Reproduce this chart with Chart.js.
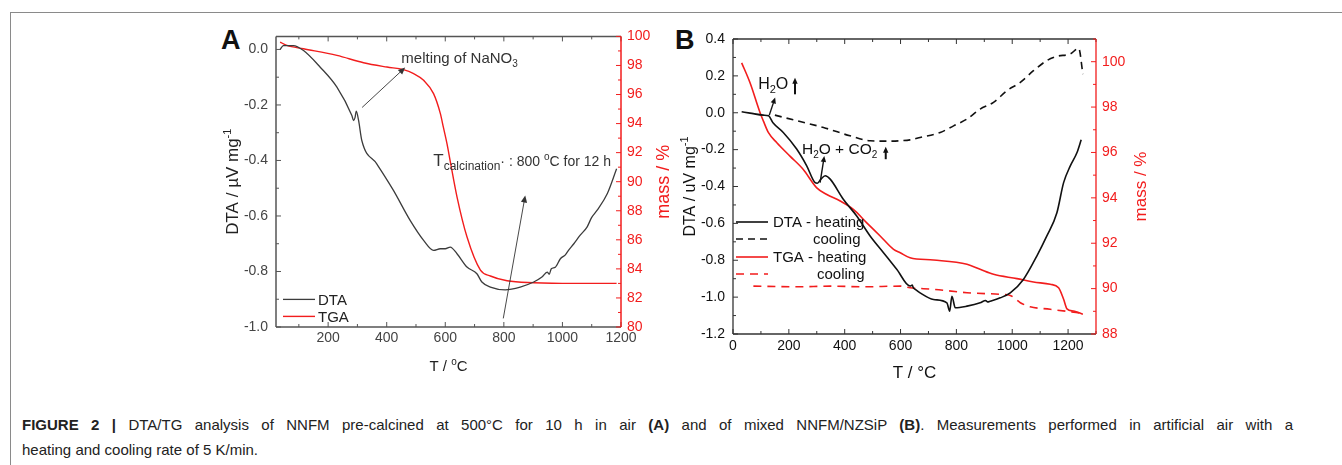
<!DOCTYPE html>
<html>
<head>
<meta charset="utf-8">
<script src="https://cdn.jsdelivr.net/npm/chart.js@4.4.1/dist/chart.umd.min.js"></script>
<style>
  html, body { margin: 0; padding: 0; background: #fff; }
  body { width: 1342px; height: 465px; position: relative; overflow: hidden; font-family: "Liberation Sans", Arial, sans-serif; }
  #frame { position: absolute; left: 10px; top: 12px; width: 1340px; height: 460px; border-left: 1px solid #8a8a8a; border-top: 1px solid #8a8a8a; }
  canvas { position: absolute; }
  #chartA { left: 210px; top: 20px; }
  #chartB { left: 668px; top: 20px; }
  .panel { position: absolute; font-weight: bold; font-size: 27px; line-height: 27px; color: #111; }
  #caption { position: absolute; left: 22px; top: 412px; width: 1271px; font-size: 15px; line-height: 25px; color: #222; }
  #caption .l1 { text-align: justify; text-align-last: justify; white-space: nowrap; }
  #caption .l2 { text-align: left; white-space: nowrap; }
</style>
</head>
<body>
<div id="frame"></div>
<div class="panel" style="left:221px;top:27px;">A</div>
<div class="panel" style="left:675px;top:27px;">B</div>
<canvas id="chartA" width="470" height="370"></canvas>
<canvas id="chartB" width="490" height="370"></canvas>
<div id="caption">
  <div class="l1"><b>FIGURE 2 |</b> DTA/TG analysis of NNFM pre-calcined at 500°C for 10 h in air <b>(A)</b> and of mixed NNFM/NZSiP <b>(B)</b>. Measurements performed in artificial air with a</div>
  <div class="l2">heating and cooling rate of 5 K/min.</div>
</div>
<script>
(function () {
  'use strict';

  var FONT = '"Liberation Sans", Arial, sans-serif';
  var RED = '#f21d1d';

  // ---- panel A : NNFM pre-calcined ----
  var A_T_DTA = [36, 47, 81, 116, 173, 230, 281, 287, 292, 296, 304, 315, 366, 423, 480, 526, 560, 583, 600, 617, 640, 674, 708, 725, 754, 805, 856, 902, 930, 948, 955, 962, 975, 993, 1010, 1020, 1039, 1060, 1084, 1100, 1118, 1153, 1185];
  var A_DTA = [0.0, 0.014, 0.014, -0.004, -0.064, -0.136, -0.238, -0.256, -0.245, -0.222, -0.256, -0.328, -0.412, -0.508, -0.616, -0.688, -0.724, -0.718, -0.718, -0.712, -0.736, -0.784, -0.808, -0.838, -0.856, -0.866, -0.856, -0.838, -0.82, -0.802, -0.81, -0.79, -0.785, -0.754, -0.74, -0.725, -0.700, -0.67, -0.640, -0.605, -0.580, -0.52, -0.43];
  var A_T_TGA = [36, 59, 116, 230, 321, 401, 457, 492, 526, 560, 583, 594, 606, 617, 640, 674, 720, 754, 811, 902, 1039, 1185];
  var A_TGA = [99.61, 99.38, 99.15, 98.69, 98.19, 97.89, 97.71, 97.44, 96.98, 96.06, 94.7, 93.7, 92.6, 91.4, 88.96, 86.21, 83.92, 83.51, 83.18, 83.05, 83.0, 83.0];
  var A_X_TICKS = [200, 400, 600, 800, 1000, 1200];
  var A_Y_TICKS = [-1.0, -0.8, -0.6, -0.4, -0.2, 0.0];
  var A_M_TICKS = [80, 82, 84, 86, 88, 90, 92, 94, 96, 98, 100];

  // ---- panel B : mixed NNFM/NZSiP ----
  var B_T_DTA_H = [31, 61, 109, 127, 144, 180, 228, 264, 294, 302, 315, 330, 348, 395, 443, 491, 539, 587, 634, 642, 646, 650, 670, 718, 766, 776, 784, 796, 838, 885, 905, 912, 921, 957, 993, 1040, 1088, 1124, 1160, 1184, 1208, 1232, 1247];
  var B_DTA_H = [0.005, -0.002, -0.013, -0.016, -0.056, -0.107, -0.197, -0.288, -0.379, -0.382, -0.36, -0.342, -0.36, -0.469, -0.56, -0.668, -0.759, -0.85, -0.94, -0.935, -0.95, -0.955, -0.977, -1.013, -1.031, -1.076, -0.995, -1.058, -1.049, -1.031, -1.018, -1.026, -1.022, -1.004, -0.977, -0.904, -0.777, -0.668, -0.542, -0.379, -0.288, -0.216, -0.147];
  var B_T_DTA_C = [150, 228, 324, 419, 491, 551, 599, 634, 670, 742, 790, 838, 885, 933, 981, 1029, 1076, 1124, 1160, 1208, 1238, 1253];
  var B_DTA_C = [-0.013, -0.043, -0.08, -0.125, -0.152, -0.154, -0.152, -0.147, -0.134, -0.107, -0.071, -0.034, 0.02, 0.056, 0.12, 0.165, 0.228, 0.283, 0.306, 0.319, 0.35, 0.21];
  var B_T_TGA_H = [31, 61, 97, 109, 127, 157, 204, 251, 300, 336, 384, 431, 479, 527, 575, 599, 634, 718, 838, 885, 933, 1017, 1076, 1136, 1166, 1184, 1196, 1220, 1253];
  var B_TGA_H = [99.95, 99.07, 97.75, 97.38, 96.87, 96.43, 95.84, 95.26, 94.44, 94.15, 93.86, 93.49, 92.9, 92.32, 91.73, 91.58, 91.36, 91.26, 91.07, 90.85, 90.63, 90.44, 90.29, 90.19, 90.04, 89.53, 89.11, 89.01, 88.87];
  var B_T_TGA_C = [73, 228, 348, 467, 599, 634, 718, 838, 957, 993, 1029, 1064, 1136, 1253];
  var B_TGA_C = [90.11, 90.08, 90.11, 90.08, 90.11, 90.04, 89.97, 89.82, 89.75, 89.70, 89.38, 89.20, 89.09, 88.91];
  var B_X_TICKS = [0, 200, 400, 600, 800, 1000, 1200];
  var B_Y_TICKS = [-1.2, -1.0, -0.8, -0.6, -0.4, -0.2, 0.0, 0.2, 0.4];
  var B_M_TICKS = [88, 90, 92, 94, 96, 98, 100];

  function pts(xs, ys) {
    return xs.map(function (x, i) { return { x: x, y: ys[i] }; });
  }

  function setTicks(list) {
    return function (scale) { scale.ticks = list.map(function (v) { return { value: v }; }); };
  }

  function fixSize(prop, size) {
    return function (scale) { scale[prop] = size; };
  }

  // text with sub/superscript parts: [text, ''|'sub'|'sup', optional size]
  function drawRich(ctx, parts, x, y, size, color, align, angle) {
    ctx.save();
    ctx.translate(x, y);
    if (angle) ctx.rotate(angle);
    ctx.fillStyle = color;
    ctx.textBaseline = 'alphabetic';
    ctx.textAlign = 'left';
    function sizeOf(p) { return p[2] || (p[1] ? Math.round(size * 0.66) : size); }
    var ws = parts.map(function (p) {
      ctx.font = sizeOf(p) + 'px ' + FONT;
      return ctx.measureText(p[0]).width;
    });
    var total = ws.reduce(function (a, b) { return a + b; }, 0);
    var cx = align === 'center' ? -total / 2 : (align === 'right' ? -total : 0);
    parts.forEach(function (p, i) {
      ctx.font = sizeOf(p) + 'px ' + FONT;
      var dy = p[1] === 'sub' ? size * 0.25 : (p[1] === 'sup' ? -size * 0.4 : 0);
      ctx.fillText(p[0], cx, size * 0.36 + dy);
      cx += ws[i];
    });
    ctx.restore();
  }

  function drawArrow(ctx, x1, y1, x2, y2, color, width, head) {
    var ang = Math.atan2(y2 - y1, x2 - x1);
    var c = Math.cos(ang), s = Math.sin(ang);
    ctx.save();
    ctx.strokeStyle = color;
    ctx.fillStyle = color;
    ctx.lineWidth = width;
    ctx.beginPath();
    ctx.moveTo(x1, y1);
    ctx.lineTo(x2 - c * head * 0.6, y2 - s * head * 0.6);
    ctx.stroke();
    ctx.beginPath();
    ctx.moveTo(x2, y2);
    ctx.lineTo(x2 - head * c + head * 0.45 * s, y2 - head * s - head * 0.45 * c);
    ctx.lineTo(x2 - head * c - head * 0.45 * s, y2 - head * s + head * 0.45 * c);
    ctx.closePath();
    ctx.fill();
    ctx.restore();
  }

  function line(ctx, x1, y1, x2, y2) {
    ctx.beginPath();
    ctx.moveTo(x1, y1);
    ctx.lineTo(x2, y2);
    ctx.stroke();
  }

  // frame, inward ticks, axis titles, notes, arrows and legend
  function makeDecor(cfg) {
    return {
      id: 'figDecor',
      afterDatasetsDraw: function (chart) {
        var ctx = chart.ctx;
        var a = chart.chartArea;
        var sx = chart.scales.x, sy = chart.scales.y, sm = chart.scales.y2;
        ctx.save();
        ctx.lineWidth = cfg.frameWidth;
        ctx.strokeStyle = cfg.frameColor;
        line(ctx, a.left, a.top, a.left, a.bottom);
        line(ctx, a.left, a.top, a.right, a.top);
        line(ctx, a.left, a.bottom, a.right, a.bottom);

        ctx.lineWidth = 1;
        var v, p;
        for (v = Math.ceil(sx.min / 100) * 100; v <= sx.max; v += 100) {
          p = sx.getPixelForValue(v);
          var lx = (v % 200 === 0) ? 5 : 3;
          line(ctx, p, a.bottom, p, a.bottom - lx);
          line(ctx, p, a.top, p, a.top + lx);
        }
        for (v = Math.ceil(sy.min * 10 - 1e-6); v <= Math.floor(sy.max * 10 + 1e-6); v++) {
          p = sy.getPixelForValue(v / 10);
          line(ctx, a.left, p, a.left + ((v % 2 === 0) ? 5 : 3), p);
        }
        ctx.strokeStyle = RED;
        for (v = Math.ceil(sm.min); v <= sm.max; v++) {
          p = sm.getPixelForValue(v);
          line(ctx, a.right, p, a.right - ((v % 2 === 0) ? 5 : 3), p);
        }
        ctx.lineWidth = cfg.frameWidth;
        line(ctx, a.right, a.top, a.right, a.bottom);
        ctx.restore();

        var midY = (a.top + a.bottom) / 2;
        drawRich(ctx, cfg.xTitle, (a.left + a.right) / 2, a.bottom + cfg.xTitleGap, cfg.xTitleSize, cfg.textColor, 'center');
        drawRich(ctx, cfg.yTitle, a.left - cfg.yTitleGap, midY, cfg.yTitleSize, cfg.textColor, 'center', -Math.PI / 2);
        drawRich(ctx, [['mass / %', '']], a.right + cfg.mTitleGap, midY, cfg.mTitleSize, RED, 'center', -Math.PI / 2);

        cfg.arrows.forEach(function (ar) {
          drawArrow(ctx, sx.getPixelForValue(ar[0]), sy.getPixelForValue(ar[1]),
            sx.getPixelForValue(ar[2]), sy.getPixelForValue(ar[3]), cfg.noteColor, ar[4], ar[5]);
        });
        cfg.notes.forEach(function (n) {
          drawRich(ctx, n.parts, sx.getPixelForValue(n.x), sy.getPixelForValue(n.y), n.size, cfg.noteColor, 'left');
        });

        cfg.legend.forEach(function (row) {
          var ds = chart.data.datasets[row.ds];
          var y = a.top + row.dy;
          ctx.save();
          ctx.strokeStyle = ds.borderColor;
          ctx.lineWidth = ds.borderWidth;
          ctx.setLineDash(ds.borderDash || []);
          line(ctx, a.left + row.x1, y, a.left + row.x2, y);
          ctx.restore();
          drawRich(ctx, [[row.text, '']], a.left + row.tx, y, cfg.legendSize, cfg.legendColor, 'left');
        });
      }
    };
  }

  function baseOptions(o) {
    var tickFont = { family: FONT, size: 14 };
    return {
      responsive: false,
      animation: false,
      events: [],
      layout: { padding: { top: o.padTop, left: 0, right: 0, bottom: 0 } },
      plugins: { legend: { display: false }, tooltip: { enabled: false } },
      elements: { point: { radius: 0 }, line: { cubicInterpolationMode: 'monotone' } },
      scales: {
        x: {
          type: 'linear', min: o.xMin, max: o.xMax,
          grid: { display: false, drawTicks: false }, border: { display: false },
          ticks: { font: tickFont, color: o.tickColor, padding: o.xPad, autoSkip: false, maxRotation: 0,
            callback: function (v) { return String(v); } },
          afterBuildTicks: setTicks(o.xTicks),
          afterFit: fixSize('height', o.xHeight)
        },
        y: {
          type: 'linear', position: 'left', min: o.yMin, max: o.yMax,
          grid: { display: false, drawTicks: false }, border: { display: false },
          ticks: { font: tickFont, color: o.tickColor, padding: 8, autoSkip: false,
            callback: function (v) { return Number(v).toFixed(1); } },
          afterBuildTicks: setTicks(o.yTicks),
          afterFit: fixSize('width', o.yWidth)
        },
        y2: {
          type: 'linear', position: 'right', min: o.mMin, max: o.mMax,
          grid: { display: false, drawTicks: false }, border: { display: false },
          ticks: { font: tickFont, color: RED, padding: 6, autoSkip: false,
            callback: function (v) { return String(v); } },
          afterBuildTicks: setTicks(o.mTicks),
          afterFit: fixSize('width', o.mWidth)
        }
      }
    };
  }

  // ---- chart A ----
  new Chart(document.getElementById('chartA').getContext('2d'), {
    type: 'line',
    data: {
      datasets: [
        { label: 'DTA', data: pts(A_T_DTA, A_DTA), yAxisID: 'y', borderColor: '#3c3c3c', borderWidth: 1.3, fill: false },
        { label: 'TGA', data: pts(A_T_TGA, A_TGA), yAxisID: 'y2', borderColor: RED, borderWidth: 1.4, fill: false }
      ]
    },
    options: baseOptions({
      padTop: 16, xMin: 22, xMax: 1200, yMin: -1.0, yMax: 0.047, mMin: 80, mMax: 100,
      xTicks: A_X_TICKS, yTicks: A_Y_TICKS, mTicks: A_M_TICKS,
      xHeight: 63, yWidth: 66, mWidth: 59, xPad: 3, tickColor: '#444'
    }),
    plugins: [makeDecor({
      frameColor: '#555', frameWidth: 1.5, textColor: '#222', noteColor: '#333',
      xTitle: [['T / ', ''], ['o', 'sup'], ['C', '']], xTitleSize: 15, xTitleGap: 39,
      yTitle: [['DTA / \u00b5V mg', ''], ['-1', 'sup']], yTitleSize: 17, yTitleGap: 44,
      mTitleSize: 18, mTitleGap: 42,
      notes: [
        { x: 450, y: -0.029, size: 15, parts: [['melting of NaNO', ''], ['3', 'sub']] },
        { x: 559, y: -0.40, size: 15, parts: [['T', '', 17], ['calcination', 'sub', 12], ['\u00b7 : 800 ', '', 14], ['o', 'sup', 10], ['C for 12 h', '', 14]] }
      ],
      arrows: [
        [316, -0.209, 463, -0.065, 0.9, 7],
        [798, -0.969, 873, -0.526, 0.9, 7]
      ],
      legend: [
        { ds: 0, dy: 263, x1: 7, x2: 39, tx: 42, text: 'DTA' },
        { ds: 1, dy: 280, x1: 7, x2: 39, tx: 42, text: 'TGA' }
      ],
      legendSize: 15, legendColor: '#222'
    })]
  });

  // ---- chart B ----
  new Chart(document.getElementById('chartB').getContext('2d'), {
    type: 'line',
    data: {
      datasets: [
        { label: 'DTA - heating', data: pts(B_T_DTA_H, B_DTA_H), yAxisID: 'y', borderColor: '#111', borderWidth: 1.6, fill: false },
        { label: 'DTA - cooling', data: pts(B_T_DTA_C, B_DTA_C), yAxisID: 'y', borderColor: '#111', borderWidth: 1.6, borderDash: [7, 5], fill: false },
        { label: 'TGA - heating', data: pts(B_T_TGA_H, B_TGA_H), yAxisID: 'y2', borderColor: RED, borderWidth: 1.6, fill: false },
        { label: 'TGA - cooling', data: pts(B_T_TGA_C, B_TGA_C), yAxisID: 'y2', borderColor: RED, borderWidth: 1.6, borderDash: [8, 6], fill: false }
      ]
    },
    options: baseOptions({
      padTop: 19, xMin: 0, xMax: 1300, yMin: -1.2, yMax: 0.4, mMin: 88, mMax: 101,
      xTicks: B_X_TICKS, yTicks: B_Y_TICKS, mTicks: B_M_TICKS,
      xHeight: 56, yWidth: 65, mWidth: 62, xPad: 4, tickColor: '#111'
    }),
    plugins: [makeDecor({
      frameColor: '#333', frameWidth: 1.3, textColor: '#111', noteColor: '#111',
      xTitle: [['T / \u00b0C', '']], xTitleSize: 17, xTitleGap: 38,
      yTitle: [['DTA / uV mg', ''], ['-1', 'sup']], yTitleSize: 16, yTitleGap: 44,
      mTitleSize: 17, mTitleGap: 44,
      notes: [
        { x: 90, y: 0.158, size: 16, parts: [['H', ''], ['2', 'sub'], ['O', '']] },
        { x: 247, y: -0.196, size: 15.5, parts: [['H', ''], ['2', 'sub'], ['O + CO', ''], ['2', 'sub']] }
      ],
      arrows: [
        [130, -0.013, 151, 0.083, 1.4, 6],
        [222, 0.10, 222, 0.19, 2, 6],
        [312, -0.379, 327, -0.234, 1.4, 6],
        [547, -0.252, 547, -0.185, 2, 6]
      ],
      legend: [
        { ds: 0, dy: 183, x1: 3, x2: 35, tx: 40, text: 'DTA - heating' },
        { ds: 1, dy: 200, x1: 3, x2: 35, tx: 80, text: 'cooling' },
        { ds: 2, dy: 218, x1: 3, x2: 35, tx: 40, text: 'TGA - heating' },
        { ds: 3, dy: 235, x1: 3, x2: 35, tx: 84, text: 'cooling' }
      ],
      legendSize: 15, legendColor: '#111'
    })]
  });
})();
</script>
</body>
</html>
